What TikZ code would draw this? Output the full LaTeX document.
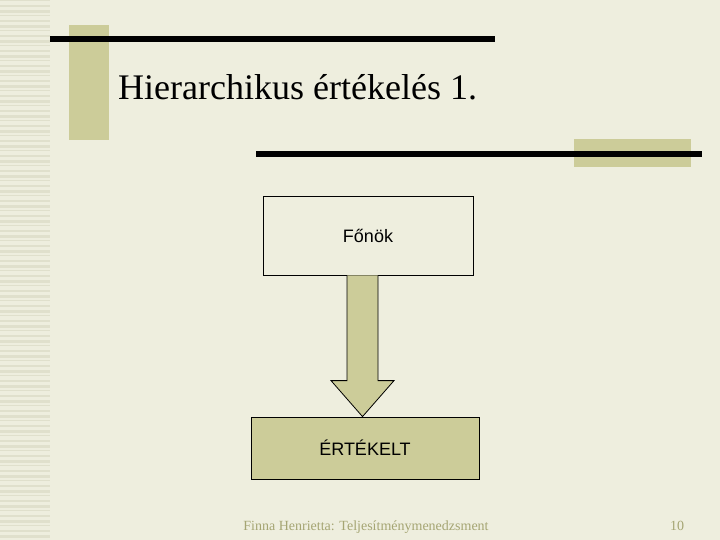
\documentclass[tikz,border=0pt]{standalone}
\usepackage{fontspec}
\setmainfont{Liberation Serif}
\setsansfont{Liberation Sans}
\usetikzlibrary{positioning,calc}

\definecolor{slidebg}{RGB}{238,238,222}
\definecolor{stripe}{RGB}{224,224,204}
\definecolor{olivebar}{RGB}{204,204,153}
\definecolor{footgray}{RGB}{165,165,115}

\begin{document}
\begin{tikzpicture}[x=1pt,y=-1pt,
    box/.style={draw, line width=0.8pt, font=\sffamily\fontsize{18}{20}\selectfont},
    foot/.style={font=\fontsize{14}{16}\selectfont, text=footgray, anchor=base}]
        \fill[slidebg] (0,0) rectangle (720,540);
        \useasboundingbox (0,0) rectangle (720,540);

        % left stripes
        \foreach \i in {0,...,107} {
            \pgfmathsetmacro{\h}{1+mod(\i*7,3)}
            \fill[stripe] (0,5*\i) rectangle (50,5*\i+\h);
        }

        % decoration bars
        \fill[olivebar] (69,25) rectangle (109,140);
        \fill (50,36) rectangle (495,42);
        \fill[olivebar] (574,139) rectangle (691,167);
        \fill (256,151) rectangle (702,157);

        \node[anchor=base west, inner sep=0, font=\fontsize{36}{40}\selectfont] (title) at (118,100) {Hierarchikus értékelés 1.};

        \node[box, minimum width=210, minimum height=79, fill=slidebg] (fonok) at (368,235.5) {Főnök};
        \node[box, minimum width=228, minimum height=62, fill=olivebar] (ertekelt) at (365,448) {ÉRTÉKELT};

        \coordinate (ax) at (362.5,0);
        \draw[fill=olivebar, line width=0.8pt] ($(ax |- fonok.south)+(-15.5,0)$)
            -- ($(ax |- ertekelt.north)+(-15.5,-36)$)
            -- ($(ax |- ertekelt.north)+(-31.5,-36)$)
            -- (ax |- ertekelt.north)
            -- ($(ax |- ertekelt.north)+(31.5,-36)$)
            -- ($(ax |- ertekelt.north)+(15.5,-36)$)
            -- ($(ax |- fonok.south)+(15.5,0)$);

        \node[foot] (author) at (366,530) {Finna Henrietta: Teljesítménymenedzsment};
        \node[foot] (page) at (677,530) {10};

    \end{tikzpicture}
\end{document}
